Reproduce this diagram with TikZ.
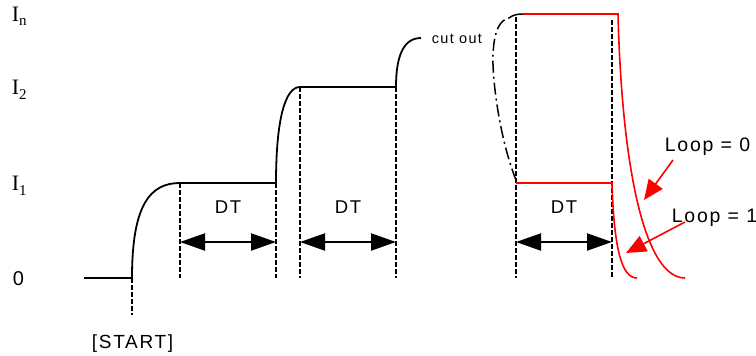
\documentclass[tikz,border=0pt]{standalone}
\usepackage{fontspec}
\setmainfont{Liberation Sans}
\newfontfamily\serifI{Liberation Serif}
\newfontfamily\spaced[LetterSpace=9]{Liberation Sans}
\usetikzlibrary{arrows.meta}

\begin{document}
\begin{tikzpicture}[x=1pt,y=-1pt,line width=1.8pt,
	guide/.style={line width=1.3pt,dash pattern=on 4.5pt off 2.5pt},
	dtarrow/.style={{Triangle[length=25pt,width=17pt]}-{Triangle[length=25pt,width=17pt]},line width=2pt},
	looparrow/.style={red,line width=1.6pt,-{Triangle[length=20pt,width=17pt]}},
	lvl/.style={anchor=base west,inner sep=0pt,font=\serifI\fontsize{22}{22}\selectfont},
	lbl/.style={anchor=base,inner sep=0pt,font=\spaced\fontsize{18.5}{18.5}\selectfont},
	looplbl/.style={anchor=base west,inner sep=0pt,font=\spaced\fontsize{19.5}{19.5}\selectfont}]
	\useasboundingbox (0,0) rectangle (756,356);
	% levels
	\node[lvl] (In) at (11,21) {I\raisebox{-5pt}{\fontsize{15}{15}\selectfont n}};
	\node[lvl] (I2) at (11,94) {I\raisebox{-5pt}{\fontsize{15}{15}\selectfont 2}};
	\node[lvl] (I1) at (11,190) {I\raisebox{-5pt}{\fontsize{15}{15}\selectfont 1}};
	\node[anchor=base west,inner sep=0pt,font=\fontsize{20}{20}\selectfont] (zero) at (12,285) {0};
	\coordinate (s0) at (84,278);
	\coordinate (start) at (132,278);
	\coordinate (a1) at (180,183);
	\coordinate (b1) at (276,183);
	\coordinate (a2) at (300,87);
	\coordinate (b2) at (396,87);
	\coordinate (cut) at (421,38);
	\coordinate (c1) at (516,183);
	\coordinate (c2) at (612,183);
	\coordinate (d1) at (516,17);
	\coordinate (d2) at (612,20);
	\coordinate (dt) at (0,242);
	\draw (s0) -- (start) .. controls (132,205) and (150,183) .. (a1) -- (b1)
		.. controls (276,120) and (285,87) .. (a2) -- (b2)
		.. controls (396,55) and (404,38) .. (cut);
	\node[anchor=base west,inner sep=0pt,font=\spaced\fontsize{14.5}{14.5}\selectfont] (cutout) at (431,43) {cut out};
	\draw[guide] (start) -- (132,315);
	\foreach \p in {a1,b1,a2,b2,d1,d2} \draw[guide] (\p) -- (\p |- start);
	\node[anchor=base west,inner sep=0pt,font=\spaced\fontsize{19}{19}\selectfont] (st) at (91,348) {[START]};
	% DT
	\draw[dtarrow] (a1 |- dt) -- (b1 |- dt);
	\draw[dtarrow] (a2 |- dt) -- (b2 |- dt);
	\draw[dtarrow] (c1 |- dt) -- (c2 |- dt);
	\node[lbl] (dt1) at (228,213) {DT};
	\node[lbl] (dt2) at (348,213) {DT};
	\node[lbl] (dt3) at (564,213) {DT};
	% cut-out jump
	\draw[line width=1.5pt,dash pattern=on 12pt off 4pt on 2pt off 4pt] (516,180) .. controls (500,140) and (492,80) .. (493,55)
		.. controls (494,30) and (500,20) .. (509,18);
	\draw[line width=1.5pt] (509,18) .. controls (513,15) and (517,14) .. (523,14);
	\draw[red,line width=1.6pt] (523,14) -- (618,14) .. controls (622,170) and (645,278) .. (685,278);
	\draw[red,line width=1.6pt] (c1) -- (c2) .. controls (614,250) and (622,278) .. (637,278);
	\node[looplbl] (loop0) at (664,151) {Loop = 0};
	\node[looplbl] (loop1) at (671,222) {Loop = 1};
	\coordinate (l0tail) at (673,160);
	\coordinate (l0tip) at (644,200);
	\coordinate (l1tail) at (685,222);
	\coordinate (l1tip) at (626,253);
	\draw[looparrow] (l0tail) -- (l0tip);
	\draw[looparrow] (l1tail) -- (l1tip);
\end{tikzpicture}
\end{document}
